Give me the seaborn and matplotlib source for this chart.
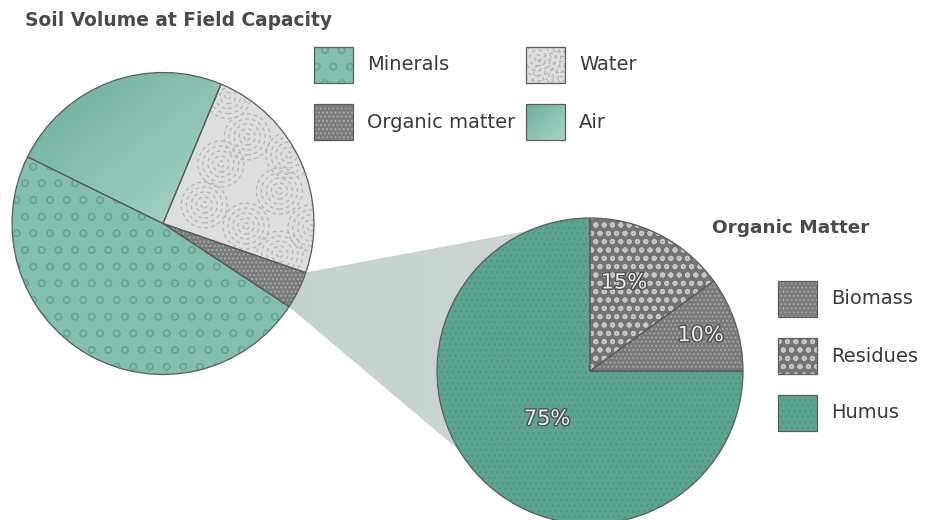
import numpy as np
import matplotlib
matplotlib.use("Agg")
import matplotlib.pyplot as plt
import seaborn as sns
from matplotlib.patches import Wedge, Rectangle, Polygon, Circle
from matplotlib.colors import LinearSegmentedColormap
import matplotlib.patheffects as pe

# ---------------- data ----------------
soil_title = "Soil Volume at Field Capacity"
soil_labels = ["Minerals", "Organic matter", "Water", "Air"]
soil_values = [48, 4, 24, 24]

om_title = "Organic Matter"
om_labels = ["Biomass", "Residues", "Humus"]
om_values = [10, 15, 75]
om_pct_labels = ["10%", "15%", "75%"]

# ---------------- style ----------------
sns.set_theme(style="white")
plt.rcParams['font.family'] = ['DejaVu Sans']
plt.rcParams['hatch.linewidth'] = 0.9

TXT = "#3a3a3a"
OUTLINE = "#5b5d5c"
styles = {
    "Minerals": dict(fc="#82bfaf", hatch="o", hc="#68a795", hlw=0.9),
    "Organic matter": dict(fc="#7a7c7b", hatch="....", hc="#a7a9a8", hlw=0.9),
    "Water": dict(fc="#dcdedd", hatch=None, hc="#b3b6b5", swirl=True),
    "Air": dict(fc="#86c3b1", hatch=None, hc=None,
                grad=["#6aae9b", "#a9d5c8"]),
    "Biomass": dict(fc="#797b7a", hatch="....", hc="#a3a5a4", hlw=0.9),
    "Residues": dict(fc="#747477", hatch="oo", hc="#c6c6c6", hlw=1.3),
    "Humus": dict(fc="#5ba48f", hatch="...", hc="#4f9582", hlw=0.9),
}

W, H = 931, 520
fig = plt.figure(figsize=(W / 100, H / 100), dpi=100)
ax = fig.add_axes([0, 0, 1, 1])


def Y(y):
    return H - y


def bbox_of(p):
    return p.get_patch_transform().transform_path(p.get_path()).get_extents()


def gradient(clip, colors, z, direction=(1, -1)):
    bb = bbox_of(clip)
    n = 200
    xx, yy = np.meshgrid(np.linspace(0, 1, n), np.linspace(0, 1, n))
    g = xx * direction[0] + yy * direction[1]
    g = (g - g.min()) / (g.max() - g.min())
    cmap = LinearSegmentedColormap.from_list("g", colors)
    im = ax.imshow(g, extent=(bb.x0, bb.x1, bb.y0, bb.y1), origin="lower",
                   cmap=cmap, aspect="auto", zorder=z, interpolation="bilinear")
    im.set_clip_path(clip)


def swirls(clip, centers, maxr, color, z):
    for (cx, cy) in centers:
        for rr in np.arange(3, maxr, 5):
            c = Circle((cx, cy), rr, fill=False, edgecolor=color, lw=0.9,
                       linestyle=(0, (3.0, 2.5)), zorder=z)
            ax.add_patch(c)
            c.set_clip_path(clip)


def decorate(base, make, label, z, swirl_centers=None, swirl_r=40):
    st = styles[label]
    base.set_facecolor(st["fc"])
    base.set_edgecolor("none")
    base.set_linewidth(0)
    base.set_zorder(z)
    if st.get("grad"):
        gradient(base, st["grad"], z + 0.1)
    if st.get("hatch"):
        with plt.rc_context({"hatch.linewidth": st.get("hlw", 0.9)}):
            h = make()
            h.set_fill(False)
            h.set_hatch(st["hatch"])
            h.set_edgecolor(st["hc"])
            h.set_linewidth(0)
            h.set_zorder(z + 0.2)
            ax.add_patch(h)
    if st.get("swirl") and swirl_centers is not None:
        swirls(base, swirl_centers, swirl_r, st["hc"], z + 0.2)
    o = make()
    o.set_fill(False)
    o.set_edgecolor(OUTLINE)
    o.set_linewidth(0.9)
    o.set_zorder(z + 0.4)
    ax.add_patch(o)


# ---------------- left pie ----------------
L_C, L_R = (163, Y(223.5)), 151
lw, _ = ax.pie(soil_values, startangle=153.8, counterclock=True,
               center=L_C, radius=L_R,
               colors=[styles[l]["fc"] for l in soil_labels],
               wedgeprops=dict(linewidth=0))
for w, lab in zip(lw, soil_labels):
    mk = (lambda w=w: Wedge(w.center, w.r, w.theta1, w.theta2))
    centers = None
    if styles[lab].get("swirl"):
        t1, t2 = np.deg2rad(w.theta1), np.deg2rad(w.theta2)
        centers = []
        for f, fr in [(0.3, 0.5), (0.55, 0.2), (0.55, 0.75), (0.8, 0.05),
                      (0.8, 0.4), (0.8, 0.75), (0.95, 0.95), (0.98, 0.2),
                      (0.95, 0.55)]:
            a = t1 + fr * (t2 - t1)
            centers.append((w.center[0] + f * w.r * np.cos(a),
                            w.center[1] + f * w.r * np.sin(a)))
    decorate(w, mk, lab, 2, swirl_centers=centers, swirl_r=26)

# ---------------- right pie ----------------
R_C, R_R = (590, Y(371)), 153
rw, _ = ax.pie(om_values, startangle=0, counterclock=True,
               center=R_C, radius=R_R,
               colors=[styles[l]["fc"] for l in om_labels],
               wedgeprops=dict(linewidth=0))
for w, lab in zip(rw, om_labels):
    mk = (lambda w=w: Wedge(w.center, w.r, w.theta1, w.theta2))
    decorate(w, mk, lab, 4)

pct_dist = [0.76, 0.62, 0.42]
pct_shift = [0, 6, 3]
for w, txt, d, s in zip(rw, om_pct_labels, pct_dist, pct_shift):
    mid = np.deg2rad((w.theta1 + w.theta2) / 2 + s)
    ax.text(w.center[0] + d * w.r * np.cos(mid),
            w.center[1] + d * w.r * np.sin(mid), txt,
            ha="center", va="center", fontsize=15, color="#eceeed",
            zorder=10,
            path_effects=[pe.withStroke(linewidth=2.0, foreground="#505251")])

# ---------------- connector between the pies ----------------
om_w = lw[soil_labels.index("Organic matter")]
t_hi, t_lo = np.deg2rad(om_w.theta2), np.deg2rad(om_w.theta1)
a_hi, a_lo = np.deg2rad(113.6), np.deg2rad(211)
pts = [
    (L_C[0] + L_R * np.cos(t_hi), L_C[1] + L_R * np.sin(t_hi)),
    (R_C[0] + R_R * np.cos(a_hi), R_C[1] + R_R * np.sin(a_hi)),
    R_C,
    (R_C[0] + R_R * np.cos(a_lo), R_C[1] + R_R * np.sin(a_lo)),
    (L_C[0] + L_R * np.cos(t_lo), L_C[1] + L_R * np.sin(t_lo)),
]
conn = Polygon(pts, closed=True, facecolor="#cdd2d0", edgecolor="none", zorder=1)
ax.add_patch(conn)
gradient(conn, ["#c2d3cd", "#d2d5d4"], 1.1, direction=(1, 0))

# ---------------- legends ----------------
SQ_W, SQ_H = 39, 36


def legend_item(x, y_center, label):
    def mk():
        return Rectangle((x, Y(y_center) - SQ_H / 2), SQ_W, SQ_H)
    base = mk()
    ax.add_patch(base)
    centers = [(x + SQ_W * 0.3, Y(y_center) + SQ_H * 0.2),
               (x + SQ_W * 0.9, Y(y_center) - SQ_H * 0.4)]
    decorate(base, mk, label, 6, swirl_centers=centers, swirl_r=30)
    ax.text(x + SQ_W + 14, Y(y_center), label, ha="left", va="center",
            fontsize=14, color=TXT, zorder=8)


soil_leg_pos = {"Minerals": (314, 65), "Organic matter": (314, 122),
                "Water": (526, 65), "Air": (526, 122)}
for lab in soil_labels:
    legend_item(soil_leg_pos[lab][0], soil_leg_pos[lab][1], lab)

for lab, yc in zip(om_labels, [299, 356, 413]):
    legend_item(778, yc, lab)

ax.text(25, Y(20), soil_title, ha="left", va="center", fontsize=13.4,
        fontweight="bold", color="#4a4a4a")
ax.text(712, Y(228), om_title, ha="left", va="center", fontsize=13.3,
        fontweight="bold", color="#4a4a4a")

ax.set_xlim(0, W)
ax.set_ylim(0, H)
ax.set_aspect("equal")
ax.axis("off")
fig.savefig("out.png", dpi=100, facecolor="white")
